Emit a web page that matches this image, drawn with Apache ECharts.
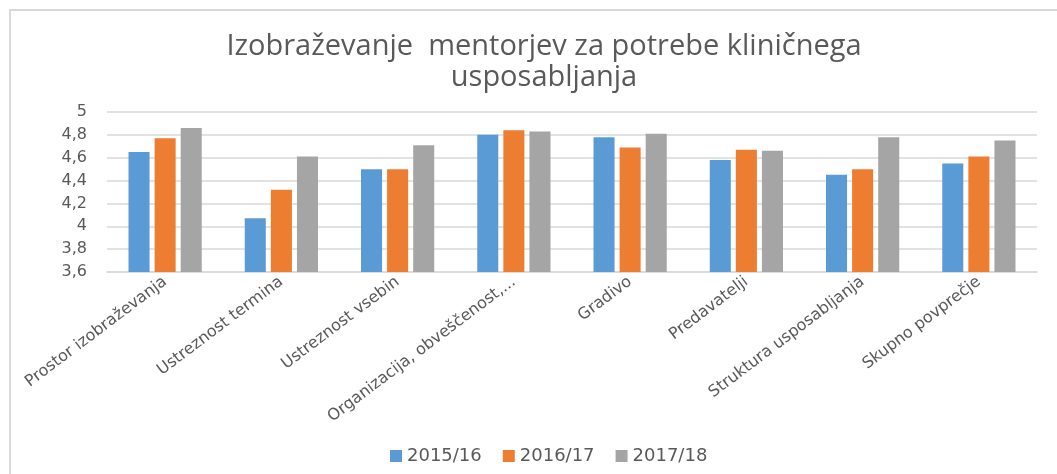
<!DOCTYPE html>
<html><head><meta charset="utf-8">
<script src="https://cdn.jsdelivr.net/npm/echarts@6/dist/echarts.min.js"></script>
<style>html,body{margin:0;padding:0;background:#fff}#c{width:1057px;height:474px}</style>
</head><body><div id="c"></div>
<script>
const titleText = 'Izobraževanje  mentorjev za potrebe kliničnega\nusposabljanja';
const categories = ['Prostor izobraževanja','Ustreznost termina','Ustreznost vsebin','Organizacija, obveščenost,...','Gradivo','Predavatelji','Struktura usposabljanja','Skupno povprečje'];
const seriesNames = ['2015/16','2016/17','2017/18'];
const s2015 = [4.65, 4.07, 4.50, 4.80, 4.78, 4.58, 4.45, 4.55];
const s2016 = [4.77, 4.32, 4.50, 4.84, 4.69, 4.67, 4.50, 4.61];
const s2017 = [4.86, 4.61, 4.71, 4.83, 4.81, 4.66, 4.78, 4.75];
const colors = ['#5B9BD5','#ED7D31','#A5A5A5'];
const font = "'DejaVu Sans', 'Open Sans', sans-serif";
const chart = echarts.init(document.getElementById('c'));
const data = [s2015, s2016, s2017];
chart.setOption({
  animation: false,
  color: colors,
  graphic: [{type:'rect', shape:{x:10,y:10,width:1200,height:600}, style:{fill:'none', stroke:'#d9d9d9', lineWidth:2}, z:-1}],
  title: {text: titleText, left: 539, textAlign: 'center', top: 26, textStyle:{fontFamily:"'Open Sans', sans-serif", fontSize:29, fontWeight:'normal', color:'#595959', lineHeight:31}},
  legend: {data: seriesNames, bottom: 4, left: 385, itemWidth: 12, itemHeight: 12, itemGap: 21, icon:'rect', textStyle:{fontFamily:font, fontSize:18, color:'#595959'}},
  grid: {left: 107, right: 20, top: 112, bottom: 202, containLabel: false},
  xAxis: {type:'category', data: categories, axisTick:{show:false}, axisLine:{lineStyle:{color:'#d9d9d9', width:1.5}},
    axisLabel:{rotate:37, interval:0, fontFamily:font, fontSize:16, color:'#595959', margin:8}},
  yAxis: {type:'value', min:3.6, max:5, interval:0.2, axisLine:{show:false}, axisTick:{show:false},
    splitLine:{lineStyle:{color:'#d9d9d9', width:1.5}},
    axisLabel:{fontFamily:font, fontSize:16, color:'#595959', margin:20, formatter: v => String(Math.round(v*10)/10).replace('.', ',')}},
  series: seriesNames.map((n,i)=>({name:n, type:'bar', data:data[i], barGap:'24%', barCategoryGap:'37%', itemStyle:{color:colors[i]}}))
});
</script></body></html>
